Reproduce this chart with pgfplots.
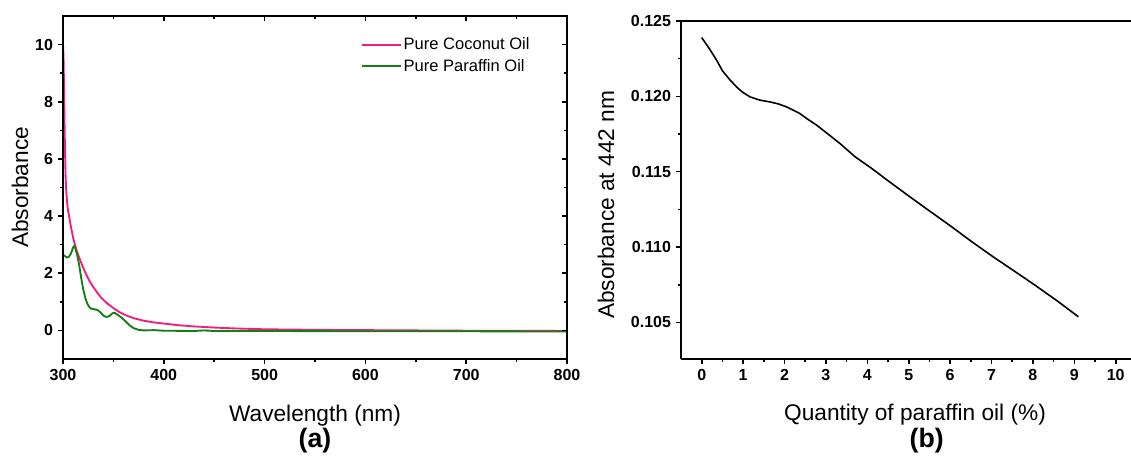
\documentclass[border=0pt]{standalone}
\usepackage{fontspec}
\setmainfont{Liberation Sans}
\usepackage{pgfplots}
\pgfplotsset{compat=1.18}
\definecolor{cocopink}{RGB}{240,30,130}
\definecolor{paragreen}{RGB}{20,125,20}

\pgfplotsset{
  panel/.style={
    scale only axis,
    clip mode=individual,
    /pgf/number format/assume math mode=true,
    tick label style={font=\fontsize{12}{14}\selectfont\bfseries},
    label style={font=\fontsize{17}{19}\selectfont},
    axis line style={line width=1.5pt},
    every tick/.style={black, line width=1.2pt},
    major tick length=4pt,
    minor tick length=2.5pt,
  },
}

\begin{document}
\begin{tikzpicture}
\useasboundingbox (-47.25pt,-73.5pt) rectangle (801pt,269.25pt);

% (a) spectra
\begin{axis}[
  panel,
  at={(0pt,0pt)}, anchor=south west,
  width=378pt, height=257.25pt,
  xmin=300, xmax=800, ymin=-1, ymax=11,
  xtick={300,400,...,800}, minor x tick num=1,
  ytick={0,2,...,10}, minor y tick num=1,
  tick align=outside, xtick pos=bottom, ytick pos=left,
  xlabel={Wavelength (nm)},
  ylabel={Absorbance},
  xlabel style={at={(axis description cs:0.5,-0.181)}, anchor=base},
  ylabel style={at={(axis description cs:-0.0694,0.5)}, anchor=base},
  legend style={at={(axis description cs:0.591,0.943)}, anchor=north west,
    draw=none, fill=none, font=\fontsize{12.4}{14}\selectfont,
    row sep=2.5pt, inner sep=0pt, nodes={inner sep=1.5pt}},
  legend cell align=left,
  legend image code/.code={\draw[#1, line width=1.4pt] (0pt,0pt) -- (29pt,0pt);},
]
\addplot[cocopink, line width=1.4pt] coordinates {
  (300,10.0) (300.5,9.6) (301,8.6) (301.5,7.3) (302,6.3) (302.5,5.5)
  (303,5.0) (304,4.5) (305,4.2) (306,4.0) (307,3.8) (308,3.6)
  (310,3.25) (313,2.85) (316,2.55) (320,2.2) (323,1.96) (326,1.75)
  (330,1.52) (334,1.32) (338,1.14) (344,0.94) (350,0.78) (356,0.64)
  (363,0.52) (370,0.43) (380,0.34) (390,0.28) (400,0.24) (415,0.18)
  (430,0.14) (450,0.10) (470,0.07) (500,0.04) (550,0.02) (600,0.01)
  (650,0.0) (700,-0.01) (750,-0.01) (800,-0.02)
};
\addlegendentry{Pure Coconut Oil}
\addplot[paragreen, line width=1.4pt] coordinates {
  (300,2.65) (302,2.6) (304,2.55) (306,2.58) (308,2.7) (310,2.9)
  (311,2.95) (312,2.9) (314,2.65) (316,2.3) (318,1.85) (320,1.45)
  (322,1.15) (324,0.95) (326,0.82) (328,0.76) (331,0.74) (334,0.72)
  (337,0.64) (340,0.52) (343,0.47) (346,0.5) (349,0.6) (351,0.62)
  (354,0.55) (358,0.45) (362,0.32) (366,0.18) (370,0.08) (375,0.02)
  (380,0.0) (390,0.01) (400,-0.01) (430,-0.02) (440,0.0) (450,-0.02)
  (500,-0.02) (600,-0.03) (700,-0.03) (800,-0.04)
};
\addlegendentry{Pure Paraffin Oil}
\node[font=\fontsize{20}{22}\selectfont\bfseries, anchor=base]
  at (axis description cs:0.5,-0.2566) {(a)};
\end{axis}
% inward ticks on top and right of (a)
\begin{axis}[
  panel,
  at={(0pt,0pt)}, anchor=south west,
  width=378pt, height=257.25pt,
  xmin=300, xmax=800, ymin=-1, ymax=11,
  xtick={300,400,...,800}, minor x tick num=1,
  ytick={0,2,...,10}, minor y tick num=1,
  tick align=inside, xtick pos=top, ytick pos=right,
  xticklabels={}, yticklabels={},
]
\end{axis}

% (b) absorbance at 442 nm
\begin{axis}[
  panel,
  at={(463.5pt,0pt)}, anchor=south west,
  width=337.2pt, height=253.5pt,
  xmin=-0.5, xmax=10.36, ymin=0.10257, ymax=0.125,
  axis x line*=box, axis y line*=left,
  every outer x axis line/.append style={-},
  every outer y axis line/.append style={-},
  xtick={0,1,...,10}, minor x tick num=1,
  ytick={0.105,0.110,0.115,0.120,0.125}, minor y tick num=1,
  tick align=outside, xtick pos=bottom, ytick pos=left,
  yticklabel style={/pgf/number format/.cd, fixed, fixed zerofill, precision=3},
  scaled y ticks=false,
  xlabel={Quantity of paraffin oil (\%)},
  ylabel={Absorbance at 442 nm},
  xlabel style={at={(axis description cs:0.5205,-0.1834)}, anchor=base},
  ylabel style={at={(axis description cs:-0.149,0.456)}, anchor=base},
]
\addplot[black, line width=1.2pt] coordinates {
  (0,0.1239) (0.2,0.1231) (0.36,0.1224) (0.5,0.1217) (0.68,0.1211)
  (0.85,0.1206) (1.0,0.12025) (1.17,0.11996) (1.4,0.11975) (1.65,0.11963)
  (1.85,0.11950) (2.05,0.1193) (2.2,0.1191) (2.37,0.11886) (2.55,0.1185)
  (2.78,0.11808) (3.05,0.1175) (3.34,0.11687) (3.7,0.1160) (4.11,0.11521)
  (4.5,0.1144) (5.03,0.11333) (5.5,0.1124) (6.04,0.11134) (6.5,0.1104)
  (7.04,0.10935) (7.5,0.1085) (8.05,0.10747) (8.6,0.1064) (9.1,0.10537)
};
\node[font=\fontsize{20}{22}\selectfont\bfseries, anchor=base]
  at (axis description cs:0.5465,-0.2604) {(b)};
\end{axis}
\end{tikzpicture}
\end{document}
